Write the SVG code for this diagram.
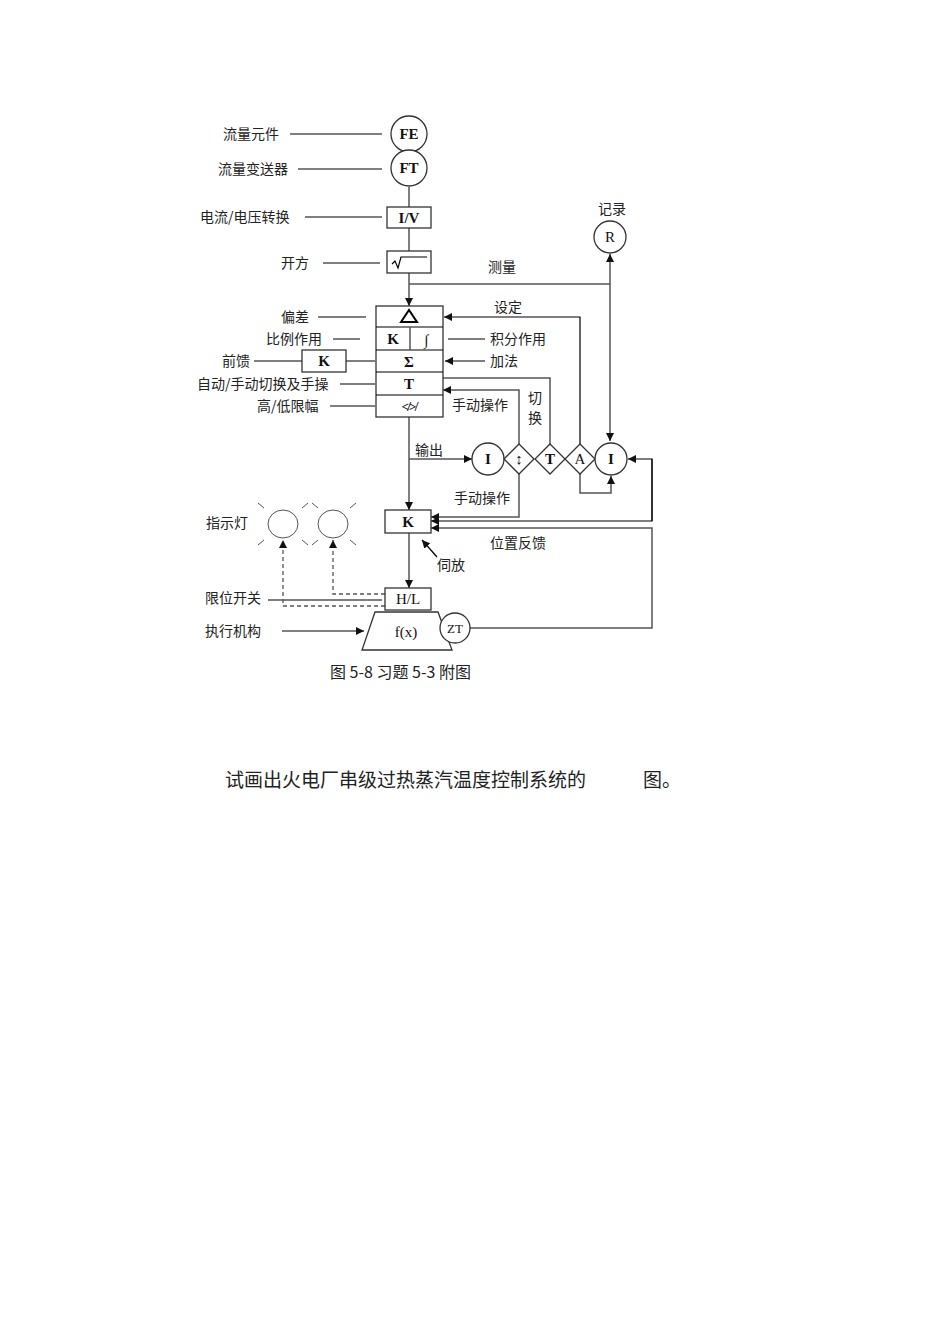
<svg xmlns="http://www.w3.org/2000/svg" width="950" height="1344" viewBox="0 0 950 1344">
<style>
.l{fill:none;stroke:#555;stroke-width:1.5}
.k{fill:none;stroke:#000;stroke-width:1.2}
.b{fill:#fff;stroke:#333;stroke-width:1.3}
.t{font-family:"Noto Sans CJK SC","Liberation Sans",sans-serif;font-size:14px;fill:#222}
.s{font-family:"Liberation Serif",serif;font-weight:bold;font-size:15px;fill:#111;text-anchor:middle}
.n{font-family:"Liberation Serif",serif;font-size:15px;fill:#111;text-anchor:middle}
.d{fill:none;stroke:#555;stroke-width:1.3;stroke-dasharray:4,3}
</style>
<defs><marker id="a" viewBox="0 0 10 10" refX="10" refY="5" markerWidth="8" markerHeight="8" markerUnits="userSpaceOnUse" orient="auto"><path d="M0,0L10,5L0,10z" fill="#111"/></marker></defs>
<rect width="950" height="1344" fill="#fff"/>
<g id="connectors">
<path class="k" d="M290,134H382M298,169H382M305,217H382M323,263H380M318,317H366M333,339H360M254,361H302M346,361H375M340,384H375M330,406H375M268,600H382M282,631H364" marker-end="url(#a)"/>
<path class="l" d="M409,187V207M409,228V251M409,273V306" marker-end="url(#a)"/>
<path class="l" d="M409,284H610V254" marker-end="url(#a)"/>
<path class="l" d="M610,284V441" marker-end="url(#a)"/>
<path class="k" d="M580,445V317H444" marker-end="url(#a)"/>
<path class="k" d="M485,339H448M485,361H445" marker-end="url(#a)"/>
<path class="l" d="M550,444V378H443M519,444V390H443" marker-end="url(#a)"/>
<path class="l" d="M409,417V510" marker-end="url(#a)"/>
<path class="l" d="M409,459H472" marker-end="url(#a)"/>
<path class="l" d="M519,474V517H431" marker-end="url(#a)"/>
<path class="l" d="M580,474V493H611V476" marker-end="url(#a)"/>
<path class="l" d="M652,521V459H628" marker-end="url(#a)"/>
<path class="k" d="M652,459V521H431" marker-end="url(#a)"/>
<path class="l" d="M470,628H652V528H431" marker-end="url(#a)"/>
<path class="l" d="M409,533V588" marker-end="url(#a)"/>
<path class="k" d="M437,557L422,540" marker-end="url(#a)"/>
<path class="d" d="M385,606H283V540" marker-end="url(#a)"/>
<path class="d" d="M385,594H333V540" marker-end="url(#a)"/>
</g>
<g id="labels" class="t">
<text x="223" y="139">流量元件</text>
<text x="218" y="174">流量变送器</text>
<text x="200" y="222">电流/电压转换</text>
<text x="281" y="268">开方</text>
<text x="281" y="322">偏差</text>
<text x="266" y="344">比例作用</text>
<text x="222" y="366">前馈</text>
<text x="197" y="389">自动/手动切换及手操</text>
<text x="257" y="411">高/低限幅</text>
<text x="598" y="214">记录</text>
<text x="488" y="272">测量</text>
<text x="494" y="312">设定</text>
<text x="490" y="344">积分作用</text>
<text x="490" y="366">加法</text>
<text x="452" y="410">手动操作</text>
<text x="528" y="403">切</text>
<text x="528" y="423">换</text>
<text x="415" y="455">输出</text>
<text x="454" y="503">手动操作</text>
<text x="490" y="548">位置反馈</text>
<text x="437" y="570">伺放</text>
<text x="206" y="528">指示灯</text>
<text x="205" y="603">限位开关</text>
<text x="205" y="636">执行机构</text>
<text x="330" y="678" style="font-size:16px">图 5-8 习题 5-3 附图</text>
<text x="225" y="787" style="font-size:19px">试画出火电厂串级过热蒸汽温度控制系统的　　　图。</text>
</g>
<g id="FE"><circle class="b" cx="409" cy="134" r="18"/><text class="s" x="409" y="139">FE</text></g>
<g id="FT"><circle class="b" cx="409" cy="168" r="18"/><text class="s" x="409" y="173">FT</text></g>
<g id="IV"><rect class="b" x="387" y="207" width="44" height="21"/><text class="s" x="409" y="223">I/V</text></g>
<g id="sqrt"><rect class="b" x="387" y="251" width="44" height="22"/><path class="k" d="M392,264l3,-3l3,7l3,-11H427"/></g>
<g id="R"><circle class="b" cx="610" cy="237" r="16"/><text class="n" x="610" y="242">R</text></g>
<g id="stack">
<rect class="b" x="376" y="306" width="67" height="111"/>
<path class="k" d="M376,327H443M376,350H443M376,372H443M376,395H443"/>
<path class="l" d="M410,327V350"/>
<path d="M401,322L409,310L417,322Z" fill="none" stroke="#000" stroke-width="2"/>
<text class="s" x="393" y="344">K</text><text class="s" x="426" y="345" style="font-style:italic">∫</text>
<text class="s" x="409" y="367">Σ</text>
<text class="s" x="409" y="389">T</text>
<text class="s" x="409" y="411" style="font-size:13px">≮≯</text>
</g>
<g id="Kff"><rect class="b" x="302" y="350" width="44" height="22"/><text class="s" x="324" y="366">K</text></g>
<g id="I1"><circle class="b" cx="488" cy="459" r="16"/><text class="s" x="488" y="464">I</text></g>
<g id="D1"><path class="b" d="M519,444L534,459L519,474L504,459Z"/><text class="s" x="519" y="464">↕</text></g>
<g id="D2"><path class="b" d="M550,444L565,459L550,474L535,459Z"/><text class="s" x="550" y="464">T</text></g>
<g id="D3"><path class="b" d="M580,444L595,459L580,474L565,459Z"/><text class="n" x="580" y="464">A</text></g>
<g id="I2"><circle class="b" cx="611" cy="459" r="16"/><text class="s" x="611" y="464">I</text></g>
<g id="K"><rect class="b" x="385" y="510" width="46" height="23"/><text class="s" x="408" y="527">K</text></g>
<g id="HL"><rect class="b" x="385" y="588" width="46" height="22"/><text class="n" x="408" y="604">H/L</text></g>
<g id="act"><path class="b" d="M375,612H438L452,650H362Z"/><text class="n" x="406" y="637">f(x)</text></g>
<g id="ZT"><circle class="b" cx="455" cy="628" r="15"/><text class="n" x="455" y="633" style="font-size:13px">ZT</text></g>
<g id="lamps" class="l" style="stroke-width:1">
<ellipse cx="283" cy="524" rx="15" ry="14"/><ellipse cx="333" cy="524" rx="15" ry="14"/>
<path d="M264,508l-6,-5M302,508l6,-5M264,540l-6,5M302,540l6,5M318,508l-6,-5M350,508l6,-5M318,540l-6,5M350,540l6,5"/>
</g>
</svg>
